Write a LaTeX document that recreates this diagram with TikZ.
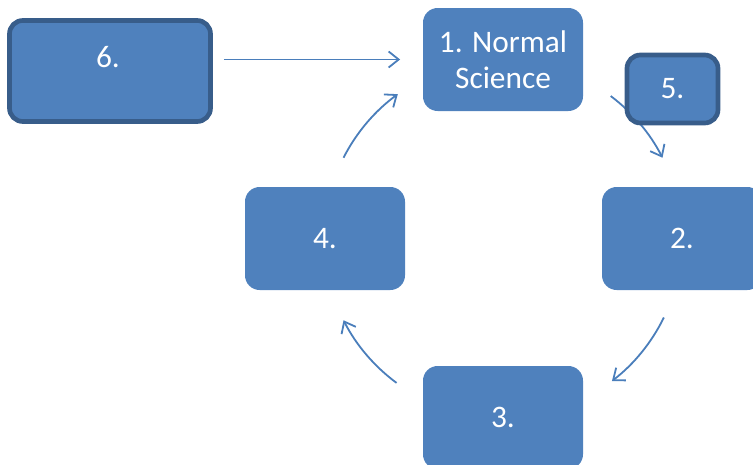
\documentclass[tikz,border=0pt]{standalone}
\usepackage{fontspec}
\setmainfont{Carlito}
\usetikzlibrary{arrows.meta}
\definecolor{CycleFill}{HTML}{4F81BD}
\definecolor{CycleEdge}{HTML}{385D8A}
\definecolor{CycleLine}{HTML}{4A7EBB}

\begin{document}
\begin{tikzpicture}[x=0.75pt,y=0.75pt,
    stage/.style={fill=CycleFill,text=white,rounded corners=11pt,inner sep=0pt,
      minimum width=120pt,minimum height=77.25pt,align=center,
      font=\fontsize{23.5}{27}\selectfont},
    framed/.style={stage,draw=CycleEdge,line width=3.5pt,rounded corners=10pt},
    flow/.style={CycleLine,line width=1.35pt,-{Straight Barb[length=7.5pt,width=12pt]}}]
      \useasboundingbox (0,0) rectangle (753,-464);
      \coordinate (hub) at (503,-239);
      \node[stage] (n1) at (503,-59.5) {1. Normal\\Science};
      \node[stage] (n2) at (682,-238.5) {2.};
      \node[stage] (n3) at (503,-417.5) {3.};
      \node[stage] (n4) at (325,-238.5) {4.};
      % the cycle arrows lie on one circle through the box centres
      \foreach \a/\b in {153/126,53/27,-26/-52.5,-126.5/-153}
        \draw[flow] (hub) ++(\a:179) arc[start angle=\a,end angle=\b,radius=179];
      \node[framed,minimum width=68.25pt,minimum height=51pt] (n5) at (672.5,-89) {5.};
      \node[framed,minimum width=150.75pt,minimum height=75.75pt] (n6) at (110,-71) {};
      \node[text=white,font=\fontsize{23.5}{27}\selectfont] (n6txt) at (108,-57) {6.};
      \draw[flow] ([xshift=8.25pt]n6.east |- n1.west) -- ([xshift=-17pt]n1.west);
\end{tikzpicture}
\end{document}
